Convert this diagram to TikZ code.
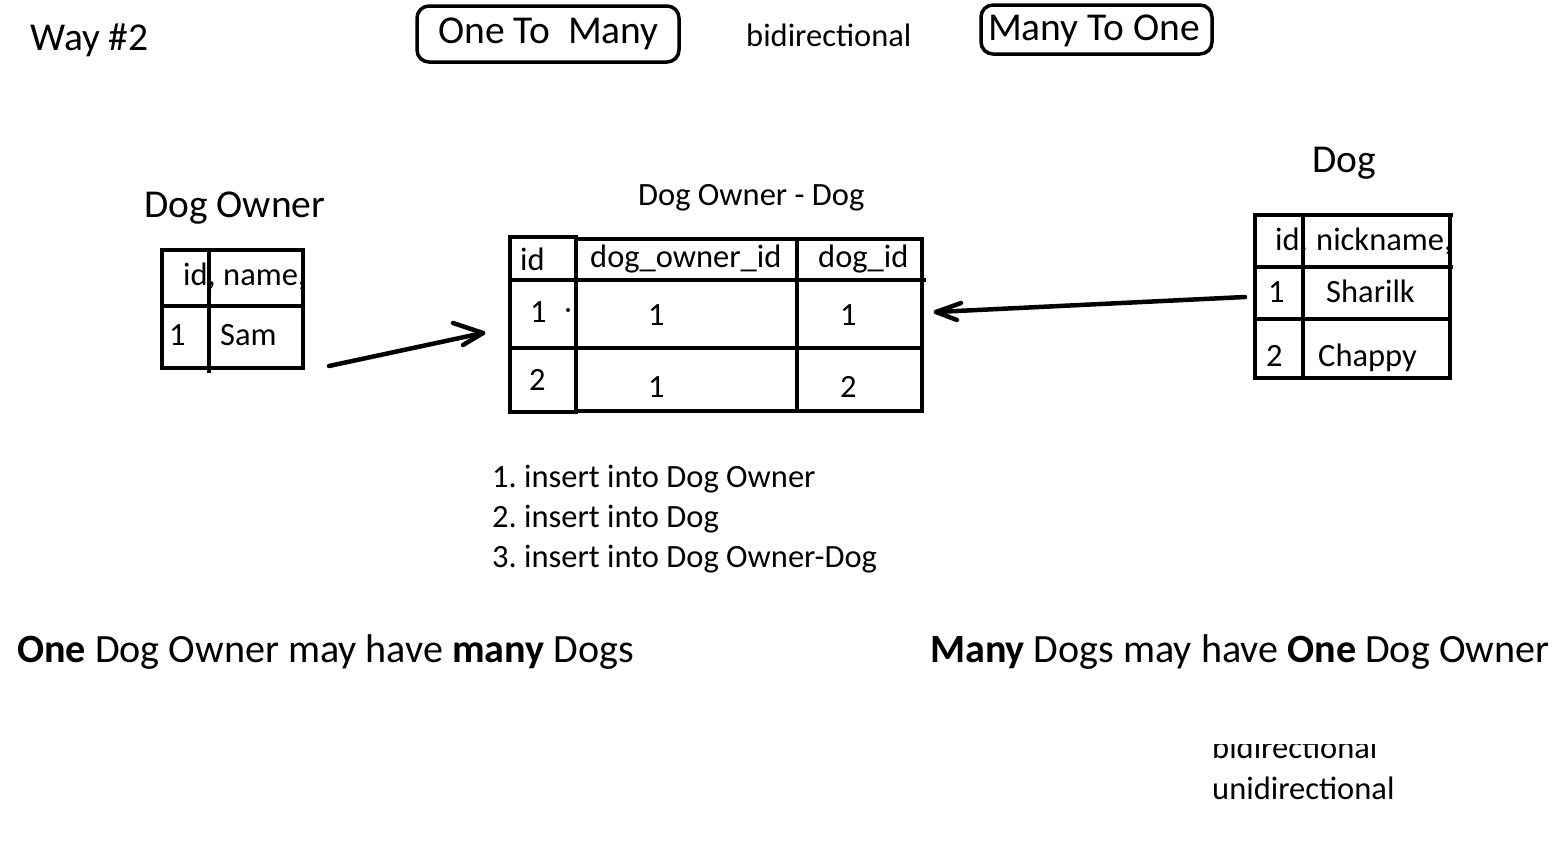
\documentclass[tikz,border=0pt]{standalone}
\usepackage{fontspec}
\setmainfont{Carlito}
\frenchspacing
\begin{document}
\begin{tikzpicture}[x=1pt,y=-1pt,
  big/.style={font=\fontsize{39.5}{47}\selectfont, inner sep=0pt, anchor=base west},
  bigger/.style={font=\fontsize{40.1}{48}\selectfont, inner sep=0pt, anchor=base west},
  med/.style={font=\fontsize{32.5}{39}\selectfont, inner sep=0pt, anchor=base west},
  grid/.style={line width=4pt},
  hand/.style={line width=4.5pt, line cap=round, line join=round},
  roundbox/.style={draw, line width=3.5pt, rounded corners=12pt, inner sep=0pt}]
\useasboundingbox[fill=white] (0,0) rectangle (1563,855);

% header
\node[big] (way) at (30,50) {Way \#2};
\node[roundbox, minimum width=262pt, minimum height=56pt] (otmbox) at (548,34) {};
\node[big] (otm) at (438,43) {One To\ \ Many};
\node[med] (bidir) at (746,46) {bidirectional};
\node[roundbox, minimum width=231pt, minimum height=49pt] (mtobox) at (1096.5,29.5) {};
\node[big] (mto) at (988,40) {Many To One};

% Dog Owner table
\node[big] (dotitle) at (144,217) {Dog Owner};
\node[med] (doid) at (183,285) {id,};
\node[med] (doname) at (223,285) {name,};
\node[med] (do1) at (169,345) {1};
\node[med] (dosam) at (220,345) {Sam};
\draw[grid] (162,250) rectangle (303,368);
\draw[grid] (209,250) -- (209,373);
\draw[grid] (162,306) -- (303,306);

% Dog Owner - Dog table
\node[med] (jtitle) at (638,205) {Dog Owner - Dog};
\node[med] (jid) at (520,270) {id};
\node[med] (jdoid) at (590,267) {dog\_owner\_id};
\node[med] (jdid) at (818,267) {dog\_id};
\node[med] (j11) at (530,322) {1};
\node[med] (j12) at (648,325) {1};
\node[med] (j13) at (840,325) {1};
\node[med] (j21) at (529,390) {2};
\node[med] (j22) at (648,397) {1};
\node[med] (j23) at (840,397) {2};
\fill (568,310) circle (2pt);
\draw[grid] (510,237) rectangle (576,412);
\draw[grid] (576,239) -- (922,239) -- (922,411) -- (576,411);
\draw[grid] (797,239) -- (797,411);
\draw[grid] (510,280) -- (926,280);
\draw[grid] (510,348) -- (922,348);

% Dog table
\node[big] (dtitle) at (1312,172) {Dog};
\node[med] (did) at (1275,250) {id,};
\node[med] (dnick) at (1316,250) {nickname,};
\node[med] (d1) at (1268,302) {1};
\node[med] (dsh) at (1326,302) {Sharilk};
\node[med] (d2) at (1266,366) {2};
\node[med] (dch) at (1318,366) {Chappy};
\draw[grid] (1255,215) rectangle (1450,378);
\draw[grid] (1450,215) -- (1453,215);
\draw[grid] (1303,215) -- (1303,378);
\draw[grid] (1255,267) -- (1453,267);
\draw[grid] (1255,319) -- (1450,319);

% arrows
\coordinate (a1s) at (329,366);
\coordinate (a1e) at (483,333);
\coordinate (a1u) at (453,323);
\coordinate (a1l) at (463,345);
\draw[hand] (a1s) -- (a1e);
\draw[hand] (a1u) -- (a1e) -- (a1l);
\coordinate (a2s) at (1245,297);
\coordinate (a2e) at (936,312);
\coordinate (a2u) at (961,303);
\coordinate (a2l) at (957,320);
\draw[hand] (a2s) -- (a2e);
\draw[hand] (a2u) -- (a2e) -- (a2l);

% steps
\node[med] (s1) at (492,487) {1. insert into Dog Owner};
\node[med] (s2) at (492,527) {2. insert into Dog};
\node[med] (s3) at (492,567) {3. insert into Dog Owner-Dog};

% bottom statements
\node[bigger] (left) at (17,662) {\textbf{One} Dog Owner may have \textbf{many} Dogs};
\node[bigger] (right) at (930,662) {\textbf{Many} Dogs may have \textbf{One} Dog Owner};

\begin{scope}
\clip (1150,744) rectangle (1500,780);
\node[med] (bidir2) at (1212,758) {bidirectional};
\end{scope}
\node[med] (unidir) at (1212,799) {unidirectional};
\end{tikzpicture}
\end{document}
